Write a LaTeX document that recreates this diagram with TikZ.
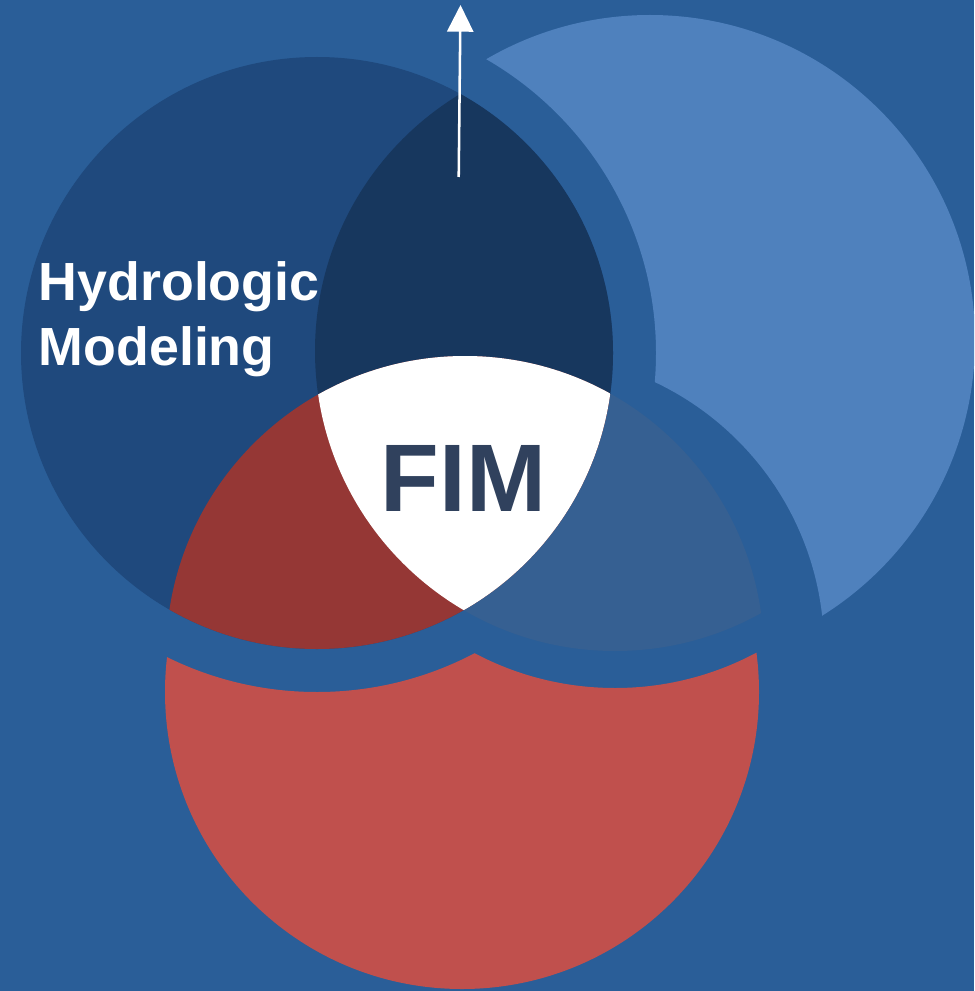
\documentclass[tikz,border=0pt]{standalone}
\usepackage{fontspec}
\setmainfont{Liberation Sans}
\usetikzlibrary{arrows.meta}

\definecolor{bgblue}{HTML}{2A5E98}
\definecolor{hydroblue}{HTML}{1F497D}
\definecolor{navyblue}{HTML}{17375E}
\definecolor{paleblue}{HTML}{4F81BD}
\definecolor{midblue}{HTML}{366092}
\definecolor{brickred}{HTML}{C0504D}
\definecolor{darkred}{HTML}{953735}
\definecolor{fimtext}{HTML}{30415D}

% circles of the core diagram (pixel units, y downwards)
\def\circA{(317,353) circle (296)}
\def\circB{(615,351) circle (300)}
\def\circC{(465,655) circle (299)}
% cutters that leave a band of background round the detached pieces
\def\cutA{(317,353) circle (339)}
\def\cutC{(529,649) circle (295)}
\def\cutB{(615,388) circle (300)}
\def\bigbox{(-100,-100) rectangle (1100,1100)}

\begin{document}
\begin{tikzpicture}[x=0.75pt,y=-0.75pt,
  sidelabel/.style={text=white, font=\bfseries\fontsize{40.3}{48}\selectfont, inner sep=0pt},
  centerlabel/.style={text=fimtext, font=\bfseries\fontsize{72}{86}\selectfont, inner sep=0pt},
  pointer/.style={draw=white, line width=1.9pt, -{Triangle[length=20pt,width=19.5pt]}}]

\useasboundingbox (0,0) rectangle (974,991);
\fill[bgblue] (0,0) rectangle (974,991);
\clip (0,0) rectangle (974,991);

% detached upper-right piece
\begin{scope}[even odd rule]
  \clip \bigbox \cutA;
  \clip \bigbox \cutC;
  \fill[paleblue] (650,340) circle (325);
\end{scope}

% detached lower piece
\begin{scope}[even odd rule]
  \clip \bigbox \cutA;
  \clip \bigbox \cutB;
  \fill[brickred] (462,692) circle (297);
\end{scope}

% overlap of the right and lower circles
\begin{scope}
  \clip \circB;
  \fill[midblue] \circC;
\end{scope}

% main circle
\fill[hydroblue] \circA;

% overlap with the right circle
\begin{scope}
  \clip \circA;
  \fill[navyblue] \circB;
\end{scope}

% overlap with the lower circle
\begin{scope}
  \clip \circA;
  \fill[darkred] \circC;
\end{scope}

% common centre
\begin{scope}
  \clip \circA;
  \clip \circB;
  \fill[white] \circC;
\end{scope}

% labels
\node[sidelabel, anchor=base west] (hydro) at (38.5,300) {Hydrologic};
\node[sidelabel, anchor=base west] (model) at (38.5,365) {Modeling};
\node[centerlabel, anchor=base] (fim) at (463.5,511) {FIM};

% upward pointer
\coordinate (ptail) at (458.7,177);
\coordinate (phead) at (460.5,5);
\draw[pointer] (ptail) -- (phead);

\end{tikzpicture}
\end{document}
